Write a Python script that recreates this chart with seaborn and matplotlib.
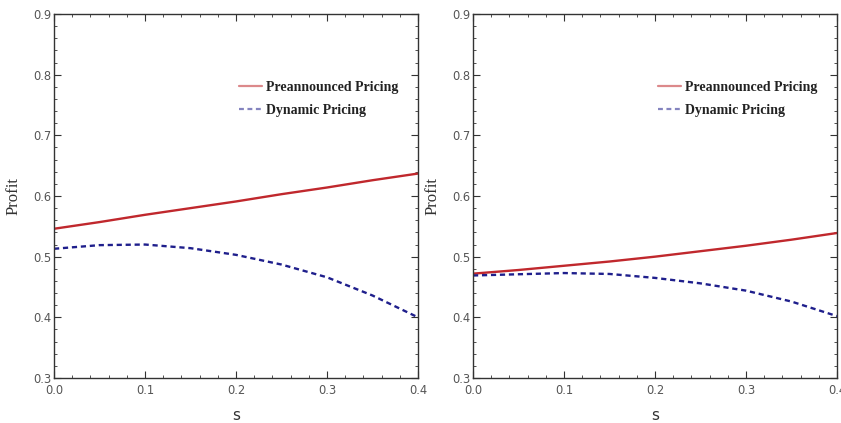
import matplotlib
matplotlib.use("Agg")
import matplotlib.pyplot as plt
from matplotlib.ticker import MultipleLocator
import seaborn as sns
import pandas as pd

# ---- data ----
s_vals = [0.0, 0.05, 0.10, 0.15, 0.20, 0.25, 0.30, 0.35, 0.40]

left_pre = [0.546, 0.557, 0.569, 0.580, 0.591, 0.603, 0.614, 0.626, 0.637]
left_dyn = [0.513, 0.519, 0.520, 0.514, 0.503, 0.487, 0.466, 0.436, 0.400]

right_pre = [0.472, 0.478, 0.485, 0.492, 0.500, 0.509, 0.518, 0.528, 0.539]
right_dyn = [0.469, 0.471, 0.473, 0.4715, 0.465, 0.456, 0.444, 0.426, 0.402]

series_names = ["Preannounced Pricing", "Dynamic Pricing"]
x_ticks = [0.0, 0.1, 0.2, 0.3, 0.4]
y_ticks = [0.3, 0.4, 0.5, 0.6, 0.7, 0.8, 0.9]

sns.set_theme(style="white")
plt.rcParams["font.family"] = ["DejaVu Sans"]

RED = "#c0282d"
BLUE = "#1f1f8c"

fig = plt.figure(figsize=(8.41, 4.23), dpi=100)
W, H = 841, 423
boxes = [(54, 418), (473, 837)]
top_px, bot_px = 14, 378

panels = [(left_pre, left_dyn), (right_pre, right_dyn)]

for (x0, x1), (pre, dyn) in zip(boxes, panels):
    ax = fig.add_axes([x0 / W, 1 - bot_px / H, (x1 - x0) / W, (bot_px - top_px) / H])
    df = pd.DataFrame({
        "s": s_vals * 2,
        "Profit": pre + dyn,
        "series": [series_names[0]] * len(s_vals) + [series_names[1]] * len(s_vals),
    })
    sns.lineplot(data=df, x="s", y="Profit", hue="series", style="series",
                 palette={series_names[0]: RED, series_names[1]: BLUE},
                 dashes={series_names[0]: "", series_names[1]: (2.2, 1.6)},
                 linewidth=1.7, ax=ax)
    ax.set_xlim(0, 0.4)
    ax.set_ylim(0.3, 0.9)
    ax.set_xticks(x_ticks)
    ax.set_yticks(y_ticks)
    ax.set_xticklabels([f"{v:.1f}" for v in x_ticks])
    ax.set_yticklabels([f"{v:.1f}" for v in y_ticks])
    ax.xaxis.set_minor_locator(MultipleLocator(0.02))
    ax.yaxis.set_minor_locator(MultipleLocator(0.02))
    ax.tick_params(which="both", direction="in", top=True, right=True,
                   bottom=True, left=True, color="#333333", labelcolor="#555555",
                   labelsize=8.3)
    ax.tick_params(which="major", length=5, width=0.8)
    ax.tick_params(which="minor", length=2.5, width=0.6)
    ax.tick_params(axis="x", pad=4)
    ax.tick_params(axis="y", pad=2)
    for sp in ax.spines.values():
        sp.set_color("#333333")
        sp.set_linewidth(1.0)
    ax.set_xlabel("s", fontsize=11, color="#333333", labelpad=8)
    ax.set_ylabel("Profit", family=["Liberation Serif"], fontsize=12, color="#333333", labelpad=8)
    leg = ax.legend(loc="upper left", bbox_to_anchor=(0.475, 0.85), frameon=False,
                    handlelength=1.6, handletextpad=0.3, labelspacing=0.7,
                    prop={"family": "Liberation Serif", "weight": "bold", "size": 10})
    for h in leg.legend_handles:
        h.set_alpha(0.55)
        h.set_linewidth(1.6)
    for t in leg.get_texts():
        t.set_color("#222222")

fig.savefig("out.png", dpi=100)
